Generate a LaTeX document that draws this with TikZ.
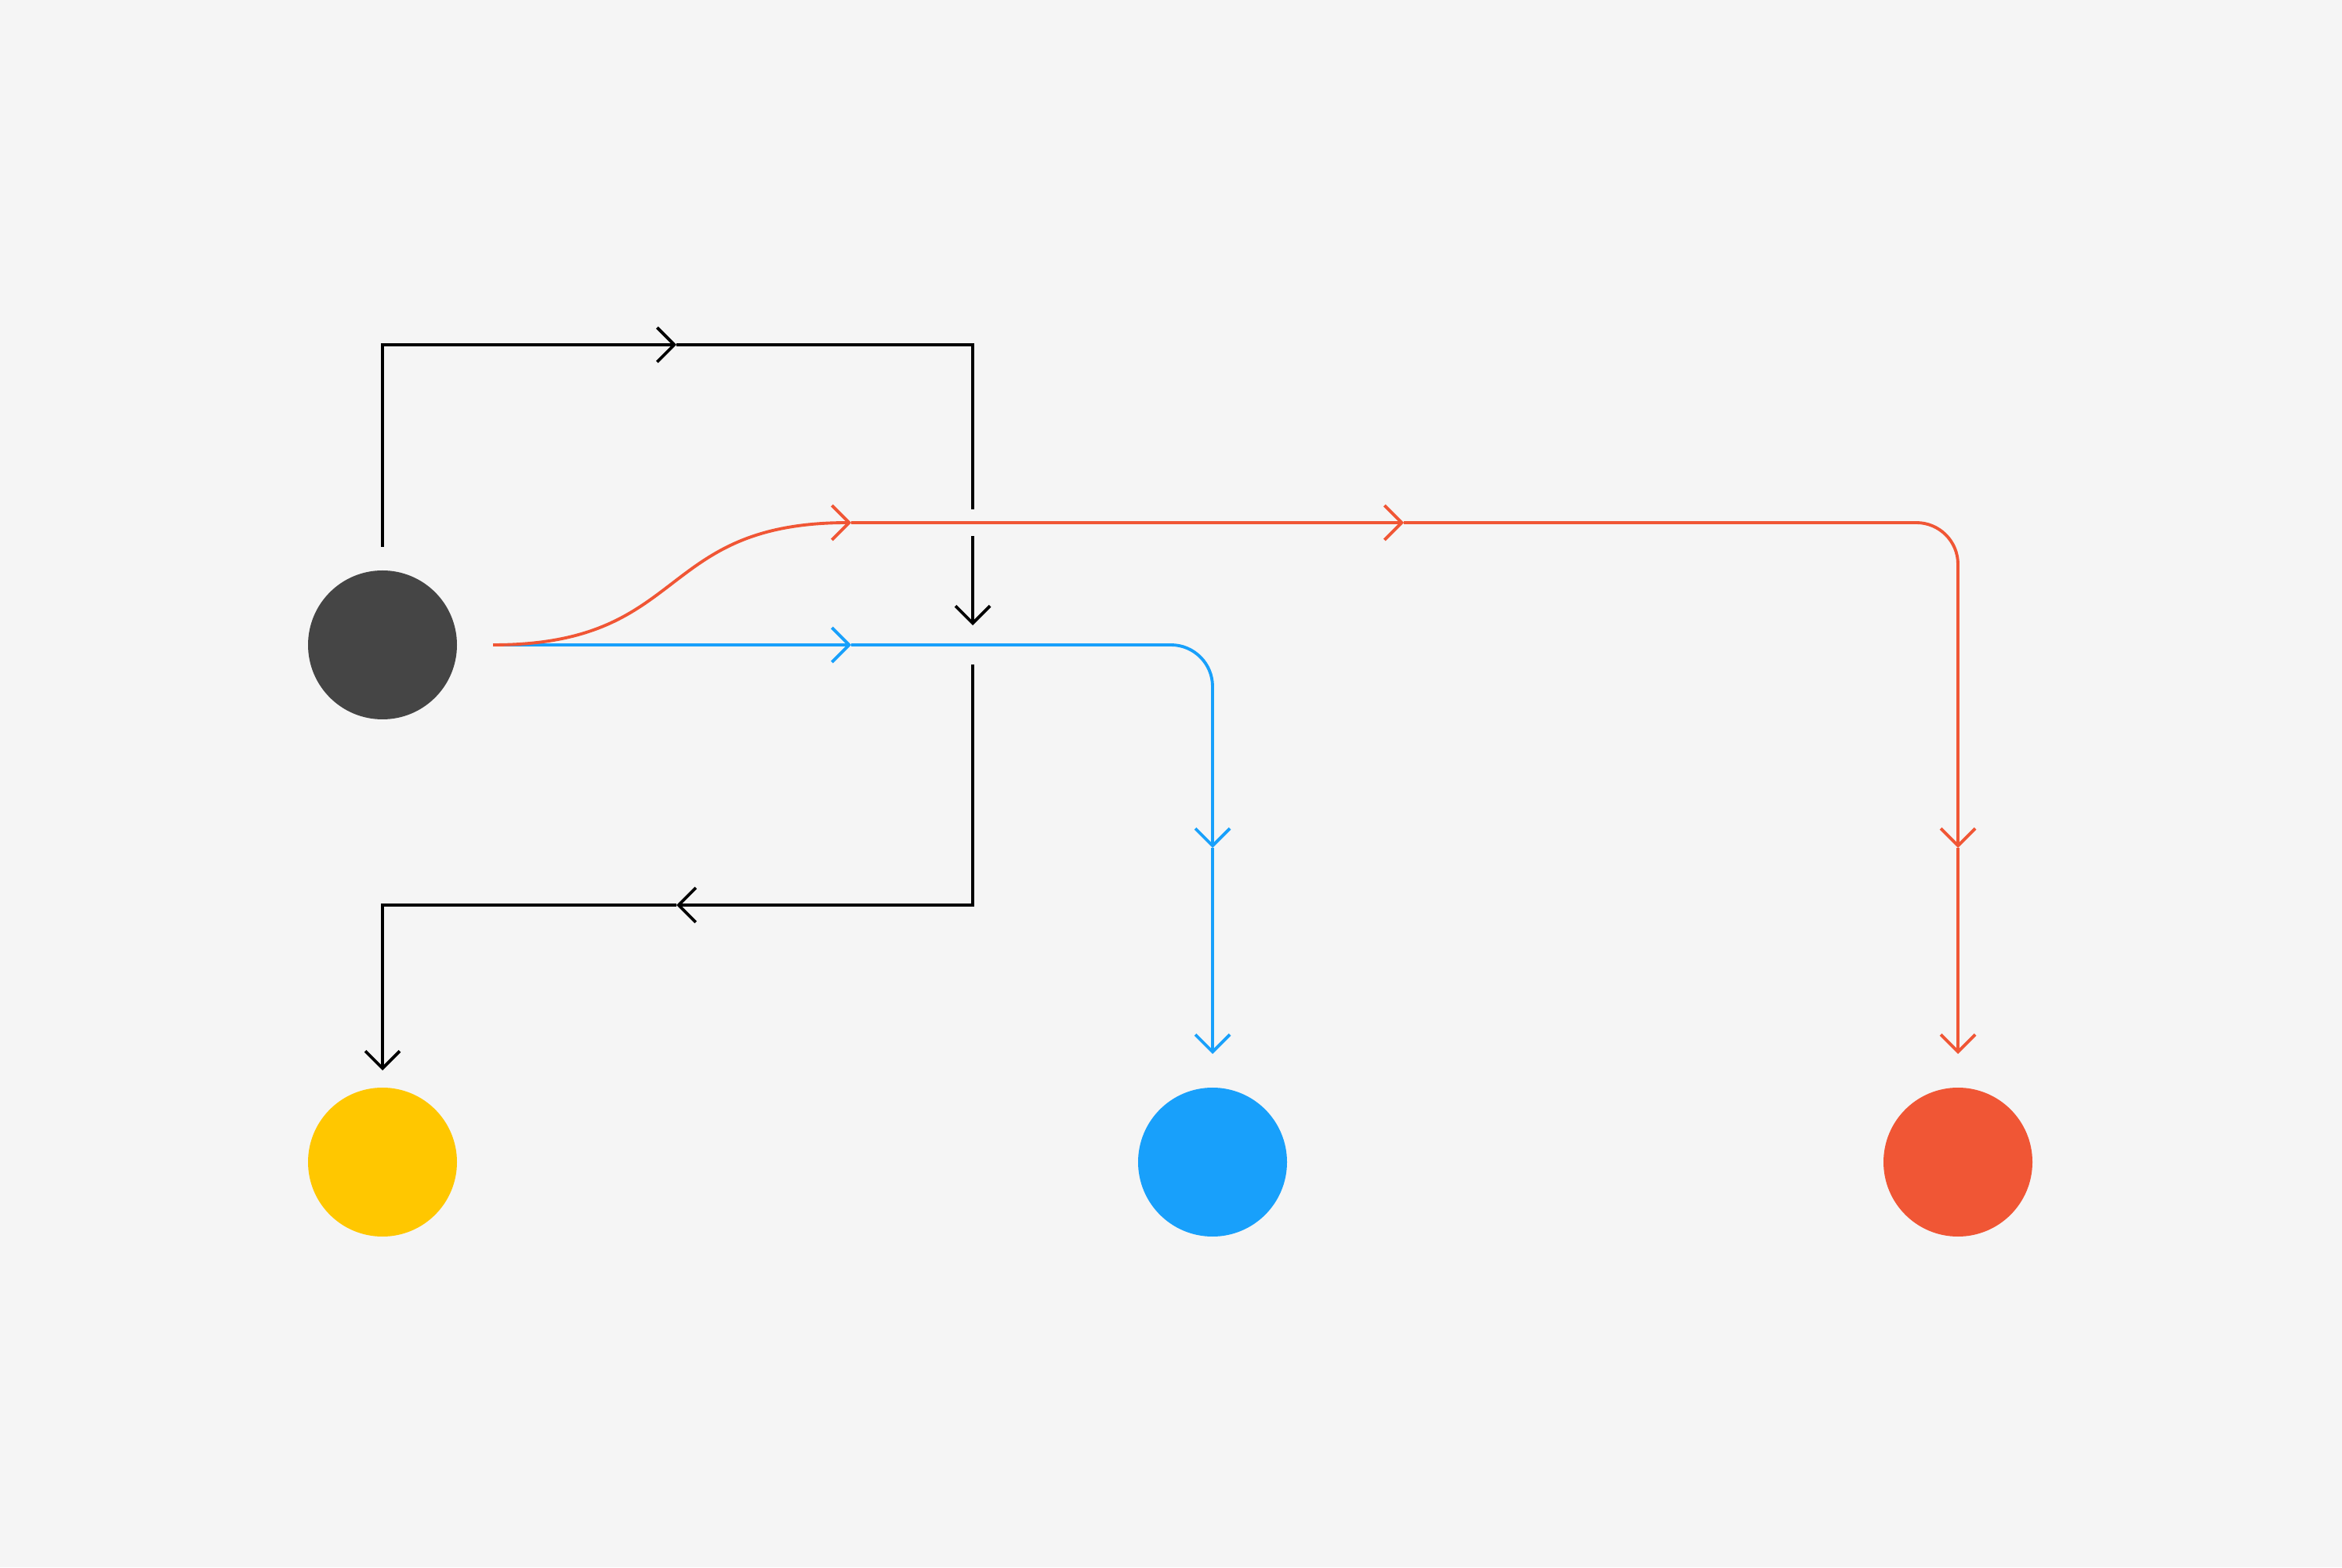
\documentclass[tikz,border=0pt]{standalone}
\usepackage{tikz}
\usetikzlibrary{arrows.meta}
\definecolor{bggray}{HTML}{F5F5F5}
\definecolor{srcgray}{HTML}{454545}
\definecolor{outyellow}{HTML}{FFC700}
\definecolor{outblue}{HTML}{18A0FB}
\definecolor{outred}{HTML}{F05635}

\begin{document}
\begin{tikzpicture}[
  >={Straight Barb[length=2.2mm,width=4.4mm]},
  wire/.style={line width=1.1pt},
  dot/.style={circle, minimum size=1.9cm, inner sep=0pt, draw=none},
]
  \fill[bggray] (0,0) rectangle (29.88,20);
  \useasboundingbox (0,0) rectangle (29.88,20);

  % source and the three outputs
  \node[dot, fill=srcgray] (src) at (4.88,11.77) {};
  \node[dot, fill=outyellow] (yel) at (4.88,5.17) {};
  \node[dot, fill=outblue] (blu) at (15.47,5.17) {};
  \node[dot, fill=outred] (red) at (24.98,5.17) {};

  % black loop, broken where it crosses
  \coordinate (k0) at (4.88,13.02);
  \coordinate (k1) at (8.63,15.60);
  \coordinate (k2) at (12.41,13.50);
  \coordinate (k3) at (12.41,13.16);
  \coordinate (k4) at (12.41,12.02);
  \coordinate (k5) at (12.41,11.52);
  \coordinate (k6) at (8.63,8.45);
  \coordinate (k7) at (4.88,6.34);
  \draw[wire, ->] (k0) |- (k1);
  \draw[wire] (k1) -| (k2);
  \draw[wire, ->] (k3) -- (k4);
  \draw[wire, ->] (k5) |- (k6);
  \draw[wire, ->] (k6) -| (k7);

  % blue route
  \coordinate (b0) at (6.29,11.77);
  \coordinate (b1) at (10.86,11.77);
  \coordinate (b2) at (15.47,9.18);
  \coordinate (b3) at (15.47,6.55);
  \draw[wire, outblue, ->] (b0) -- (b1);
  \draw[wire, outblue, ->, rounded corners=0.53cm] (b1) -| (b2);
  \draw[wire, outblue, ->] (b2) -- (b3);

  % red route
  \coordinate (r1) at (10.86,13.33);
  \coordinate (r2) at (17.91,13.33);
  \coordinate (r3) at (24.98,9.18);
  \coordinate (r4) at (24.98,6.55);
  \draw[wire, outred, ->] (b0) .. controls (8.8,11.77) and (8.35,13.33) .. (r1);
  \draw[wire, outred, ->] (r1) -- (r2);
  \draw[wire, outred, ->, rounded corners=0.53cm] (r2) -| (r3);
  \draw[wire, outred, ->] (r3) -- (r4);
\end{tikzpicture}
\end{document}
